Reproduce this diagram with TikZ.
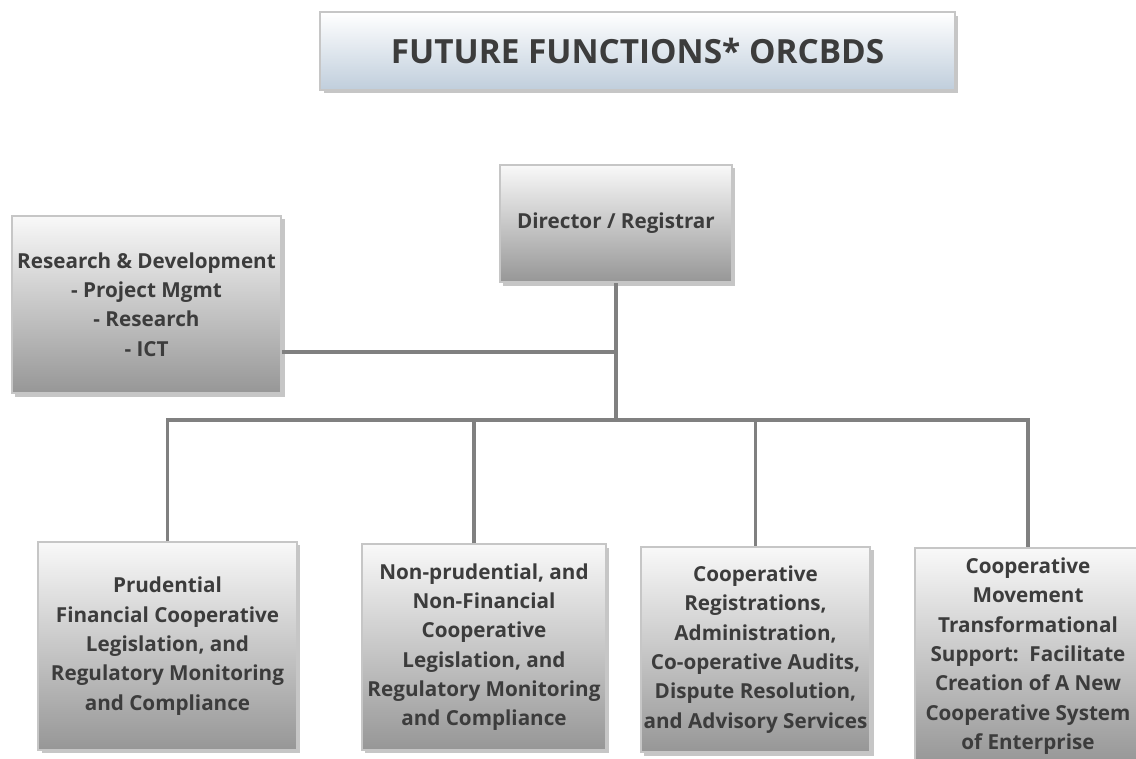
\documentclass[tikz,border=0pt]{standalone}
\usepackage{fontspec}
\setmainfont{Open Sans}
\usetikzlibrary{shadows,calc}
\definecolor{linkgray}{RGB}{128,128,128}
\definecolor{boxtext}{RGB}{60,60,60}
\definecolor{titleblue}{RGB}{192,206,220}

\begin{document}
\begin{tikzpicture}[x=0.75pt, y=-0.75pt,
    unitbox/.style={draw=gray!45, line width=1.5pt, top color=gray!5, bottom color=gray!82,
        drop shadow={shadow xshift=2.5pt, shadow yshift=-2.5pt, opacity=0.45},
        align=center, text=boxtext, font=\fontsize{15.5}{22}\selectfont\bfseries, inner sep=0pt},
    titlebox/.style={unitbox, top color=white, bottom color=titleblue, font=\fontsize{25}{30}\selectfont\bfseries},
    link/.style={draw=linkgray, line width=2.6pt}]
    \useasboundingbox (0,0) rectangle (1136,758);

    \node[titlebox, minimum width=476pt, minimum height=58pt] (title) at (637.5,51) {\raisebox{-2pt}{FUTURE FUNCTIONS* ORCBDS}};

    \node[unitbox, minimum width=174pt, minimum height=88pt] (dir) at (616,223.5) {Director / Registrar};
    \node[unitbox, minimum width=202pt, minimum height=133pt] (rd) at (146.5,304.5)
        {Research \& Development\\- Project Mgmt\\- Research\\- ICT};

    \node[unitbox, minimum width=194pt, minimum height=156pt] (prud) at (167.5,646)
        {Prudential\\Financial Cooperative\\Legislation, and\\Regulatory Monitoring\\and Compliance};
    \node[unitbox, minimum width=183pt, minimum height=154pt] (nonprud) at (484,647)
        {Non-prudential, and\\Non-Financial\\Cooperative\\Legislation, and\\Regulatory Monitoring\\and Compliance};
    \node[unitbox, minimum width=172pt, minimum height=154pt] (coop) at (755.5,649.5)
        {Cooperative\\Registrations,\\Administration,\\Co-operative Audits,\\Dispute Resolution,\\and Advisory Services};
    \node[unitbox, minimum width=170pt, minimum height=162pt] (move) at (1028,656)
        {Cooperative\\Movement\\Transformational\\Support:\ \ Facilitate\\Creation of A New\\Cooperative System\\of Enterprise};

    % connectors
    \coordinate (hub) at (616,420);
    \coordinate (rdj) at (616,352);
    \draw[link] (dir.south) -- (hub);
    \draw[link] (rd.east |- rdj) -- (rdj);
    \draw[link] (prud.north) -- (prud.north |- hub) -- (move.north |- hub) -- (move.north);
    \draw[link] ([xshift=-7.5pt]nonprud.north) -- ([xshift=-7.5pt]nonprud.north |- hub);
    \draw[link] (coop.north) -- (coop.north |- hub);
\end{tikzpicture}
\end{document}
